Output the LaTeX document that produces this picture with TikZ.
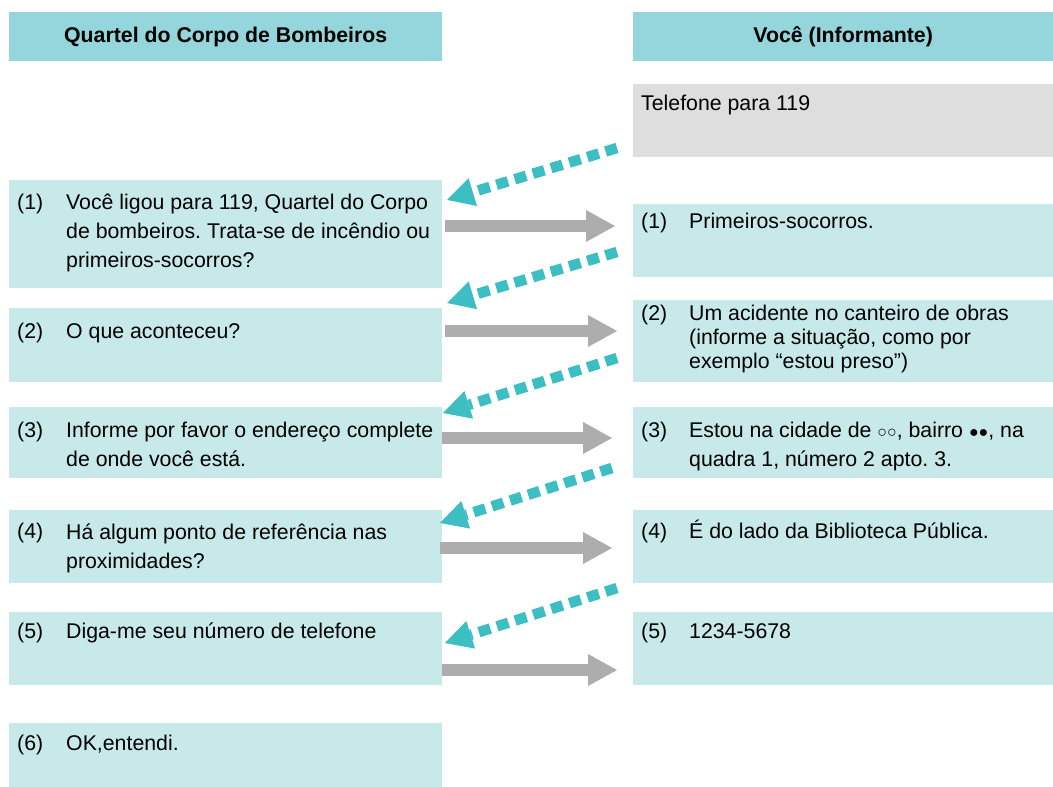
\documentclass[tikz,border=0pt]{standalone}
\usepackage{fontspec}
\setmainfont{Liberation Sans}
\frenchspacing
\usetikzlibrary{arrows.meta}
\definecolor{headteal}{RGB}{148,214,219}
\definecolor{boxteal}{RGB}{199,233,234}
\definecolor{boxgrey}{RGB}{222,222,222}
\definecolor{arrowgrey}{RGB}{173,173,173}
\definecolor{dashteal}{RGB}{60,190,195}
\tikzset{
  cabec/.style={fill=headteal, inner sep=0pt, minimum height=49pt, font=\bfseries\fontsize{21.3}{24}\selectfont},
  caixa/.style={fill=boxteal, inner sep=0pt, anchor=north west},
  num/.style={anchor=base west, inner sep=0pt, font=\fontsize{21.3}{29}\selectfont},
  fala/.style={anchor=base west, inner sep=0pt, align=left, font=\fontsize{21.3}{29}\selectfont},
  resposta/.style={line width=12pt, draw=arrowgrey, -{Triangle[length=29pt,width=32pt,line width=0pt]}},
  pergunta/.style={line width=10.5pt, draw=dashteal, dash pattern=on 12pt off 7pt, -{Triangle[length=27pt,width=29pt,line width=0pt]}}
}
\begin{document}
\begin{tikzpicture}[x=1pt,y=-1pt]
\useasboundingbox (0,0) rectangle (1053,787);
% cabecalhos
\node[cabec, minimum width=433pt, anchor=north west] (quartel) at (9,12) {Quartel do Corpo de Bombeiros};
\node[cabec, minimum width=420pt, anchor=north west] (voce) at (633,12) {Você (Informante)};
% lado do quartel
\node[caixa, minimum width=433pt, minimum height=108pt] (q1) at (9,180) {};
\node[caixa, minimum width=433pt, minimum height=74pt] (q2) at (9,308) {};
\node[caixa, minimum width=433pt, minimum height=71pt] (q3) at (9,407) {};
\node[caixa, minimum width=433pt, minimum height=73pt] (q4) at (9,510) {};
\node[caixa, minimum width=433pt, minimum height=73pt] (q5) at (9,612) {};
\node[caixa, minimum width=433pt, minimum height=64pt] (q6) at (9,723) {};
% (base = ultima linha do texto)
\node[num] (qn1) at (17,209) {(1)};
\node[fala] (qt1) at (66,267) {Você ligou para 119, Quartel do Corpo\\de bombeiros. Trata-se de incêndio ou\\primeiros-socorros?};
\node[num] (qn2) at (17,338) {(2)};
\node[fala] (qt2) at (66,338) {O que aconteceu?};
\node[num] (qn3) at (17,437) {(3)};
\node[fala] (qt3) at (66,466) {Informe por favor o endereço complete\\de onde você está.};
\node[num] (qn4) at (17,538) {(4)};
\node[fala] (qt4) at (66,568) {Há algum ponto de referência nas\\proximidades?};
\node[num] (qn5) at (17,638) {(5)};
\node[fala] (qt5) at (66,638) {Diga-me seu número de telefone};
\node[num] (qn6) at (17,750) {(6)};
\node[fala] (qt6) at (66,750) {OK,entendi.};
% lado do informante
\node[caixa, fill=boxgrey, minimum width=420pt, minimum height=73pt] (v0) at (633,84) {};
\node[caixa, minimum width=420pt, minimum height=73pt] (v1) at (633,204) {};
\node[caixa, minimum width=420pt, minimum height=82pt] (v2) at (633,300) {};
\node[caixa, minimum width=420pt, minimum height=71pt] (v3) at (633,407) {};
\node[caixa, minimum width=420pt, minimum height=73pt] (v4) at (633,510) {};
\node[caixa, minimum width=420pt, minimum height=73pt] (v5) at (633,612) {};
\node[fala] (vt0) at (641,110) {Telefone para 119};
\node[num] (vn1) at (641,228) {(1)};
\node[fala] (vt1) at (689,228) {Primeiros-socorros.};
\node[num] (vn2) at (641,320) {(2)};
\node[fala, font=\fontsize{21.3}{24}\selectfont] (vt2) at (689,368) {Um acidente no canteiro de obras\\(informe a situação, como por\\exemplo “estou preso”)};
\node[num] (vn3) at (641,437) {(3)};
\node[fala] (vt3) at (689,466) {Estou na cidade de {\fontsize{16}{16}\selectfont ○○}, bairro {\fontsize{16}{16}\selectfont ●●}, na\\quadra 1, número 2 apto. 3.};
\node[num] (vn4) at (641,538) {(4)};
\node[fala] (vt4) at (689,538) {É do lado da Biblioteca Pública.};
\node[num] (vn5) at (641,638) {(5)};
\node[fala] (vt5) at (689,638) {1234-5678};
% setas
\coordinate (p1a) at (617,148); \coordinate (p1b) at (447,200);
\coordinate (p2a) at (617,252); \coordinate (p2b) at (447,303);
\coordinate (p3a) at (617,358); \coordinate (p3b) at (443,413);
\coordinate (p4a) at (612,468); \coordinate (p4b) at (440,523);
\coordinate (p5a) at (617,588); \coordinate (p5b) at (445,643);
\coordinate (r1a) at (445,226); \coordinate (r1b) at (615,226);
\coordinate (r2a) at (445,331); \coordinate (r2b) at (617,331);
\coordinate (r3a) at (442,438); \coordinate (r3b) at (612,438);
\coordinate (r4a) at (440,548); \coordinate (r4b) at (612,548);
\coordinate (r5a) at (442,670); \coordinate (r5b) at (617,670);
\draw[pergunta] (p1a) -- (p1b);
\draw[pergunta] (p2a) -- (p2b);
\draw[pergunta] (p3a) -- (p3b);
\draw[pergunta] (p4a) -- (p4b);
\draw[pergunta] (p5a) -- (p5b);
\draw[resposta] (r1a) -- (r1b);
\draw[resposta] (r2a) -- (r2b);
\draw[resposta] (r3a) -- (r3b);
\draw[resposta] (r4a) -- (r4b);
\draw[resposta] (r5a) -- (r5b);
\end{tikzpicture}
\end{document}
